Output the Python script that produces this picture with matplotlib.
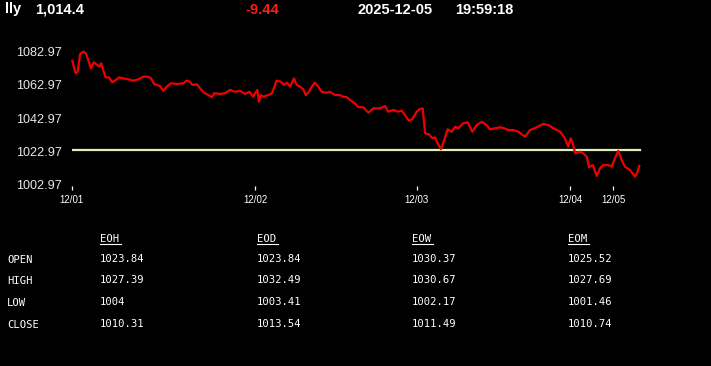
import matplotlib

matplotlib.use("Agg")
import matplotlib.pyplot as plt
from matplotlib.lines import Line2D

# price trace, x = sample step, y = price
steps = [
    0.2, 1.3, 2.0, 2.8, 3.9, 4.7, 5.5, 6.4, 7.4, 8.5, 9.2, 9.8, 10.5, 11.3, 12.4,
    13.5, 14.7, 15.8, 17.2, 18.9, 20.5, 22.2, 23.9, 25.5, 26.4, 27.5, 29.4, 30.5,
    31.7, 33.1, 35.0, 37.2, 38.3, 39.4, 40.2, 41.7, 42.8, 43.9, 45.5, 46.7, 47.5,
    49.4, 51.1, 52.8, 54.4, 56.1, 57.8, 59.2, 60.5, 61.1, 61.9, 62.4, 63.0, 63.9,
    65.5, 66.7, 67.4, 68.3, 69.7, 70.8, 71.7, 72.8, 74.1, 75.0, 76.1, 77.2, 78.0,
    79.1, 80.0, 81.1, 82.2, 83.3, 85.0, 86.1, 87.8, 89.4, 90.5, 91.7, 92.8, 94.4,
    95.5, 97.2, 98.9, 100.5, 102.8, 104.4, 105.5, 107.2, 108.7, 110.0, 111.1,
    112.4, 113.5, 115.0, 116.1, 117.0, 117.8, 119.1, 120.2, 121.1, 122.0, 123.1,
    124.2, 125.3, 126.7, 127.8, 128.9, 130.5, 132.0, 133.5, 135.0, 136.7, 138.3,
    139.4, 141.1, 142.8, 144.2, 145.5, 147.2, 148.9, 151.1, 152.8, 155.0, 157.2,
    158.9, 160.5, 162.8, 164.4, 165.5, 166.3, 167.0, 167.8, 169.4, 170.5, 171.7,
    172.5, 173.7, 175.0, 176.1, 177.2, 178.9, 180.0, 181.1, 182.2, 183.3, 184.4,
    186.1, 187.8, 188.5, 189.2,
]
prices = [
    1077.5, 1069.9, 1070.9, 1081.6, 1083.0, 1082.0, 1078.0, 1072.9, 1076.6, 1074.9,
    1073.9, 1076.0, 1071.9, 1067.5, 1067.5, 1064.5, 1065.9, 1067.5, 1066.9, 1066.3,
    1065.5, 1066.3, 1067.9, 1067.9, 1066.9, 1063.5, 1062.3, 1059.4, 1061.9, 1063.9,
    1063.5, 1063.9, 1065.5, 1064.9, 1062.9, 1063.3, 1060.9, 1058.5, 1056.9, 1055.5,
    1057.9, 1057.5, 1057.9, 1059.9, 1058.8, 1059.4, 1057.5, 1058.8, 1055.8, 1057.9,
    1059.9, 1052.8, 1056.8, 1055.8, 1056.8, 1057.9, 1060.9, 1065.5, 1064.9, 1062.9,
    1064.3, 1061.9, 1066.9, 1062.9, 1061.9, 1060.3, 1056.8, 1058.8, 1061.9, 1064.3,
    1061.9, 1058.8, 1058.2, 1058.8, 1056.8, 1056.8, 1055.8, 1055.5, 1053.8, 1051.8,
    1049.6, 1049.4, 1046.2, 1048.8, 1048.8, 1050.2, 1046.8, 1047.8, 1046.8, 1047.4,
    1044.8, 1041.3, 1042.2, 1046.8, 1048.4, 1048.8, 1033.7, 1033.1, 1030.7, 1031.3,
    1027.7, 1024.1, 1029.7, 1036.2, 1034.7, 1037.7, 1036.8, 1039.8, 1040.4, 1034.7,
    1038.7, 1040.7, 1038.7, 1036.1, 1036.8, 1037.4, 1036.8, 1035.7, 1035.7, 1034.7,
    1031.7, 1035.7, 1037.4, 1039.4, 1038.7, 1036.8, 1034.7, 1030.7, 1025.7, 1030.7,
    1027.7, 1021.7, 1022.6, 1021.7, 1019.6, 1013.2, 1014.6, 1008.0, 1012.6, 1014.6,
    1014.6, 1013.6, 1018.7, 1023.2, 1017.6, 1013.6, 1011.6, 1007.6, 1010.0, 1014.0,
]
ref_price = 1023.84
ref_span = [0.0, 189.4]

day_ticks = [0.0, 61.2, 115.0, 166.2, 180.5]
day_labels = ["12/01", "12/02", "12/03", "12/04", "12/05"]
price_ticks = [1002.97, 1022.97, 1042.97, 1062.97, 1082.97]

symbol = "lly"
last_price = "1,014.4"
change = "-9.44"
stamp_date = "2025-12-05"
stamp_time = "19:59:18"

periods = ["EOH", "EOD", "EOW", "EOM"]
row_names = ["OPEN", "HIGH", "LOW", "CLOSE"]
open_vals = ["1023.84", "1023.84", "1030.37", "1025.52"]
high_vals = ["1027.39", "1032.49", "1030.67", "1027.69"]
low_vals = ["1004", "1003.41", "1002.17", "1001.46"]
close_vals = ["1010.31", "1013.54", "1011.49", "1010.74"]

W, H = 711, 366
fig = plt.figure(figsize=(W / 100, H / 100), dpi=100)
fig.patch.set_facecolor("black")


def fx(px):
    return px / W


def fy(py):
    return 1 - py / H


# plot area: x 71.7..700 px, y 40..186 px
ax = fig.add_axes([fx(71.7), fy(186), fx(700 - 71.7), (186 - 40) / H])
ax.set_facecolor("black")
ax.set_xlim(0, (700 - 71.7) / 3)
ax.set_ylim(1082.97 - 0.6033 * (186 - 51.7), 1082.97 - 0.6033 * (40 - 51.7))
for s in ax.spines.values():
    s.set_visible(False)

ax.plot(ref_span, [ref_price, ref_price], color="#e4eeb4", lw=1.6, zorder=2)
ax.plot(steps, prices, color="#ee0000", lw=1.6, zorder=3, clip_on=False)

ax.set_xticks(day_ticks)
ax.set_xticklabels(day_labels, family="Liberation Sans", fontsize=7, color="white")
ax.tick_params(axis="x", colors="white", length=2.6, width=0.9, pad=3.8)
ax.set_yticks(price_ticks)
ax.set_yticklabels([f"{v:.2f}" for v in price_ticks], family="Liberation Sans",
                   fontsize=9.1, color="#e8e8e8")
ax.tick_params(axis="y", length=0, pad=7.2)

# header line
hdr = dict(family="Liberation Sans", fontsize=10.5, fontweight="bold", va="center")
fig.text(fx(5), fy(9.5), symbol, color="white", **hdr)
fig.text(fx(35), fy(9.5), last_price, color="white", **hdr)
fig.text(fx(245), fy(9.5), change, color="#ff1a1a", **hdr)
fig.text(fx(358), fy(9.5), stamp_date, color="white", **hdr)
fig.text(fx(455), fy(9.5), stamp_time, color="white", **hdr)

# summary table
mono = dict(family="DejaVu Sans Mono", fontsize=7.6, color="white", va="center")
col_x = [100, 257, 412, 568]
for x, name in zip(col_x, periods):
    fig.text(fx(x), fy(238.5), name, **mono)
    fig.add_artist(Line2D([fx(x), fx(x + 20.5)], [fy(243.5), fy(243.5)],
                          color="white", lw=0.8))

row_y = [260, 281, 303, 325]
rows = [open_vals, high_vals, low_vals, close_vals]
for y, name, vals in zip(row_y, row_names, rows):
    fig.text(fx(7), fy(y), name, **mono)
    for x, v in zip(col_x, vals):
        fig.text(fx(x), fy(y - 1), v, **mono)

fig.savefig("out.png", dpi=100, facecolor="black")
